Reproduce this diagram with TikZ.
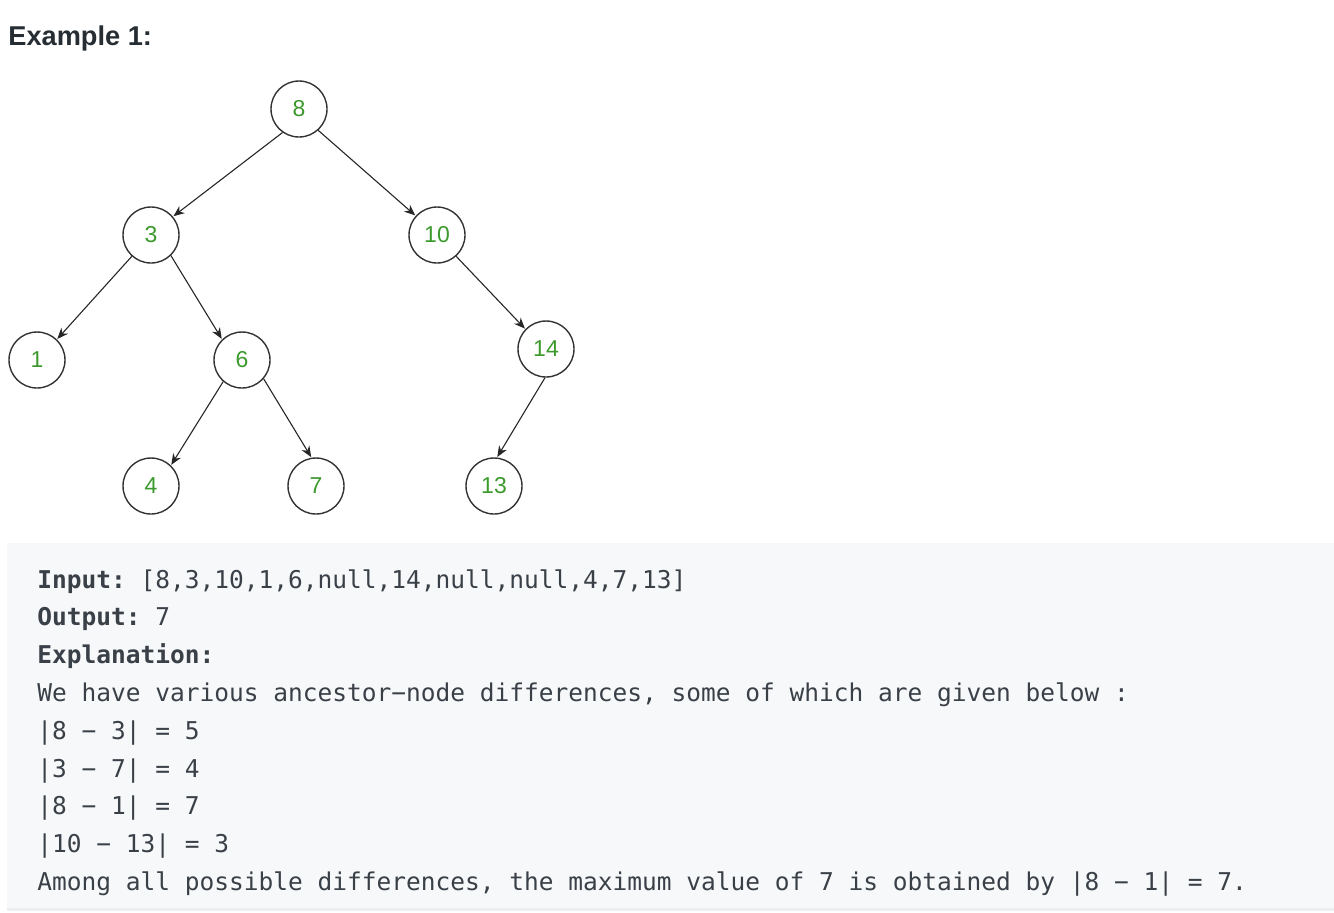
\documentclass[tikz,border=0pt]{standalone}
\usepackage{fontspec}
\setmainfont{Liberation Sans}
\setmonofont{DejaVu Sans Mono}
\usetikzlibrary{positioning, arrows.meta}
\definecolor{titleGrey}{HTML}{262D33}
\definecolor{textGrey}{HTML}{3A4047}
\definecolor{leafGreen}{HTML}{3C9A2D}
\definecolor{boxBg}{HTML}{F7F8FA}
\definecolor{boxLine}{HTML}{EDEEF0}

\tikzset{
  treenode/.style={circle, draw=black!80, line width=0.7pt, minimum size=28pt,
    inner sep=0pt, text=leafGreen, font=\fontsize{11.5}{13}\selectfont},
  edge/.style={-{Stealth[length=5.5pt, width=4.5pt]}, line width=0.55pt, black!85, shorten >=0.3pt},
  codeline/.style={anchor=base west, inner sep=0pt, text=textGrey,
    font=\ttfamily\fontsize{12.25}{15}\selectfont}
}

\begin{document}
\begin{tikzpicture}[x=0.5pt, y=-0.5pt]
    \useasboundingbox (0,0) rectangle (1334,912);

    % titre
    \node[anchor=base west, inner sep=0pt, text=titleGrey,
      font=\bfseries\fontsize{13.6}{16}\selectfont] (title) at (8,45) {Example 1:};

    % arbre
    \node[treenode] (n8)  at (299,109) {8};
    \node[treenode] (n3)  at (151,235) {3};
    \node[treenode] (n10) at (437,235) {10};
    \node[treenode] (n1)  at (37,360)  {1};
    \node[treenode] (n6)  at (242,360) {6};
    \node[treenode] (n14) at (546,349) {14};
    \node[treenode] (n4)  at (151,486) {4};
    \node[treenode] (n7)  at (316,486) {7};
    \node[treenode] (n13) at (494,486) {13};

    % aretes (points d'attache sur le cercle)
    \foreach \a/\b in {n8.235/n3.40, n8.312/n10.138, n3.228/n1.46, n3.314/n6.134,
                       n10.312/n14.136, n6.229/n4.46, n6.319/n7.99, n14.268/n13.84}
      \draw[edge] (\a) -- (\b);

    % encadré
    \fill[boxBg] (7,543) rectangle (1334,908);
    \fill[boxLine] (7,908) rectangle (1334,911);

    \node[codeline] (input)   at (37,588.0) {\textbf{Input:} [8,3,10,1,6,null,14,null,null,4,7,13]};
    \node[codeline] (output)  at (37,625.8) {\textbf{Output:} 7};
    \node[codeline] (expl)    at (37,663.6) {\textbf{Explanation:}};
    \node[codeline] (line1)   at (37,701.4) {We have various ancestor−node differences, some of which are given below :};
    \node[codeline] (line2)   at (37,739.2) {|8 − 3| = 5};
    \node[codeline] (line3)   at (37,777.0) {|3 − 7| = 4};
    \node[codeline] (line4)   at (37,814.8) {|8 − 1| = 7};
    \node[codeline] (line5)   at (37,852.6) {|10 − 13| = 3};
    \node[codeline] (line6)   at (37,890.4) {Among all possible differences, the maximum value of 7 is obtained by |8 − 1| = 7.};
  \end{tikzpicture}
\end{document}
